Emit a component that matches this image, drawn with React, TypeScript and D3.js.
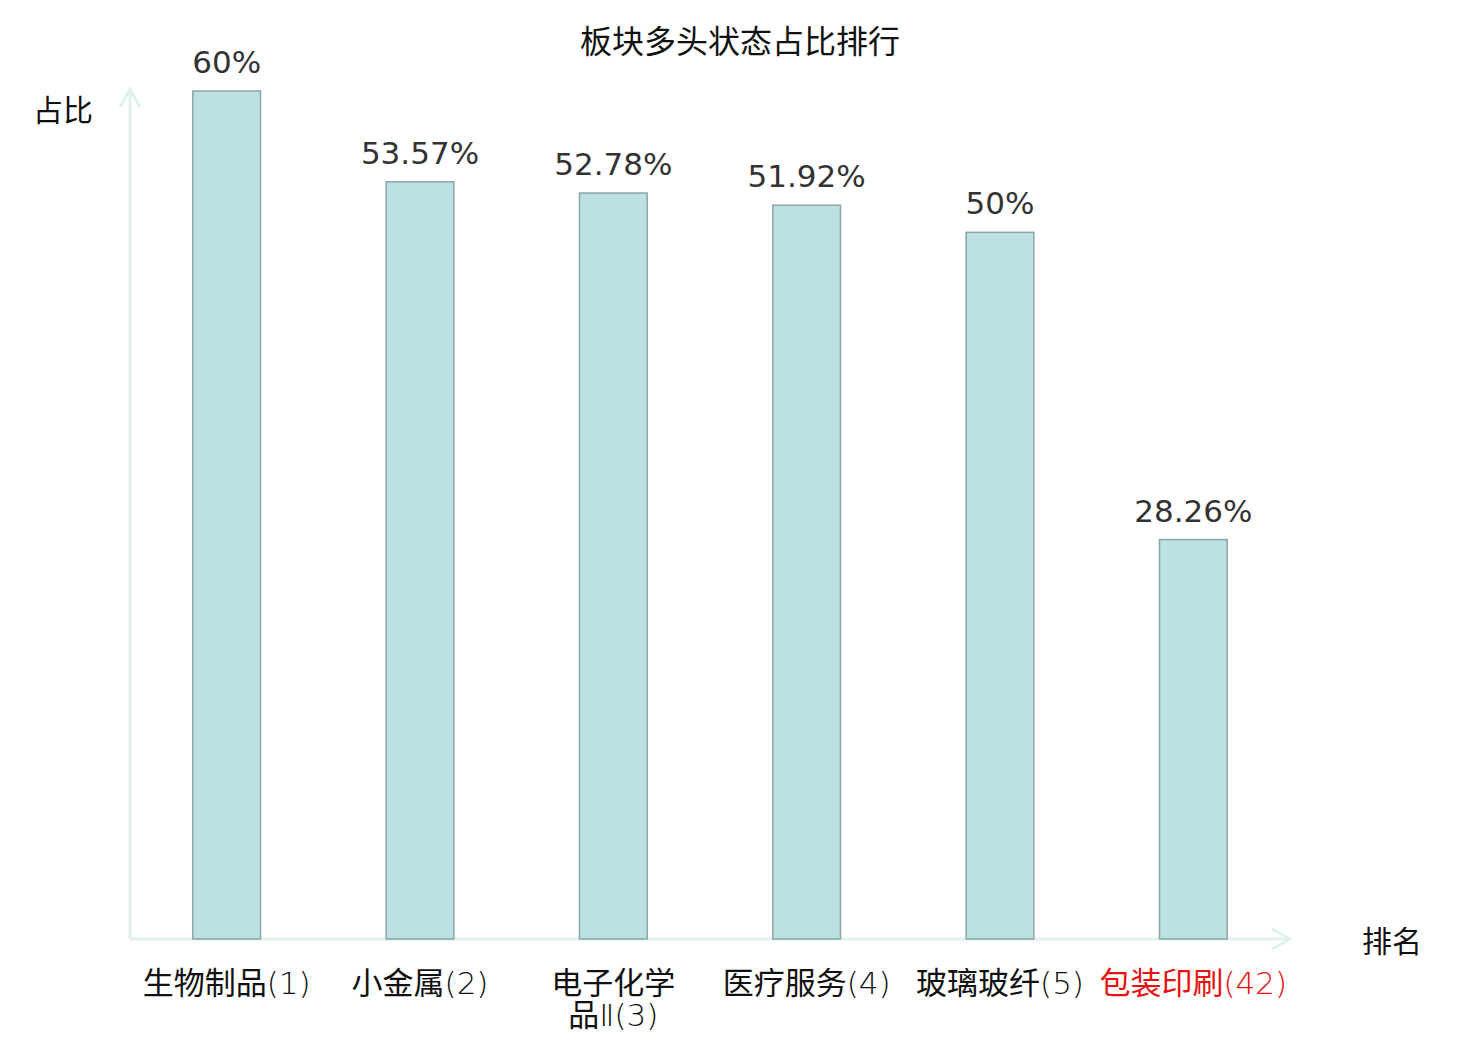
import React from "react";
import * as d3 from "d3";

const title = "板块多头状态占比排行";
const categories = ["生物制品(1)", "小金属(2)", "电子化学品Ⅱ(3)", "医疗服务(4)", "玻璃玻纤(5)", "包装印刷(42)"];
// label lines as wrapped in the chart: [CJK part, light part]
const labelLines = [
  [["生物制品", "(1)"]],
  [["小金属", "(2)"]],
  [["电子化学", ""], ["品", "Ⅱ(3)"]],
  [["医疗服务", "(4)"]],
  [["玻璃玻纤", "(5)"]],
  [["包装印刷", "(42)"]],
];
const values = [60, 53.57, 52.78, 51.92, 50, 28.26];
const highlight = [false, false, false, false, false, true];

const W = 1480;
const H = 1040;
const left = 130;
const right = 1290;
const top = 91;
const bottom = 939;
const FONT = "'DejaVu Sans', 'Noto Sans CJK SC', sans-serif";
const AXIS = "#dff2ef";

export default function App() {
  const x = d3.scaleBand<string>().domain(categories).range([left, right]).paddingInner(0.65).paddingOuter(0.325);
  const y = d3.scaleLinear().domain([0, 60]).range([bottom, top]);

  return (
    <svg width={W} height={H} style={{ position: "absolute", left: 0, top: 0, background: "#fff" }} fontFamily={FONT}>
      <text x={W / 2} y={53} textAnchor="middle" fontSize={32} fill="#111">
        {title}
      </text>

      {/* axes */}
      <line x1={left} x2={left} y1={bottom} y2={89} stroke={AXIS} strokeWidth={3} />
      <path d={`M${left - 10},${107} L${left},${89} L${left + 10},${107}`} fill="none" stroke={AXIS} strokeWidth={3} />
      <line x1={left} x2={1290} y1={bottom} y2={bottom} stroke={AXIS} strokeWidth={3} />
      <path d={`M${1272},${bottom - 10} L${1290},${bottom} L${1272},${bottom + 10}`} fill="none" stroke={AXIS} strokeWidth={3} />

      <text x={63} y={121} textAnchor="middle" fontSize={30} fill="#111">占比</text>
      <text x={1392} y={952} textAnchor="middle" fontSize={30} fill="#111">排名</text>

      {categories.map((c, i) => {
        const bx = x(c)!;
        const bw = x.bandwidth();
        const yv = y(values[i]);
        return (
          <g key={c}>
            <rect x={bx} y={yv} width={bw} height={bottom - yv} fill="#bce0e3" stroke="#8aa6a8" strokeWidth={1.5} />
            <text x={bx + bw / 2} y={yv - 18} textAnchor="middle" fontSize={31} fill="#333">
              {`${values[i]}%`}
            </text>
            {labelLines[i].map((ln, j) => (
              <text
                key={j}
                x={bx + bw / 2}
                y={994 + j * 32}
                textAnchor="middle"
                fontSize={31}
                fill={highlight[i] ? "#e8110f" : "#111"}
              >
                {ln[0]}
                {ln[1] && <tspan fontWeight={200}>{ln[1]}</tspan>}
              </text>
            ))}
          </g>
        );
      })}
    </svg>
  );
}
